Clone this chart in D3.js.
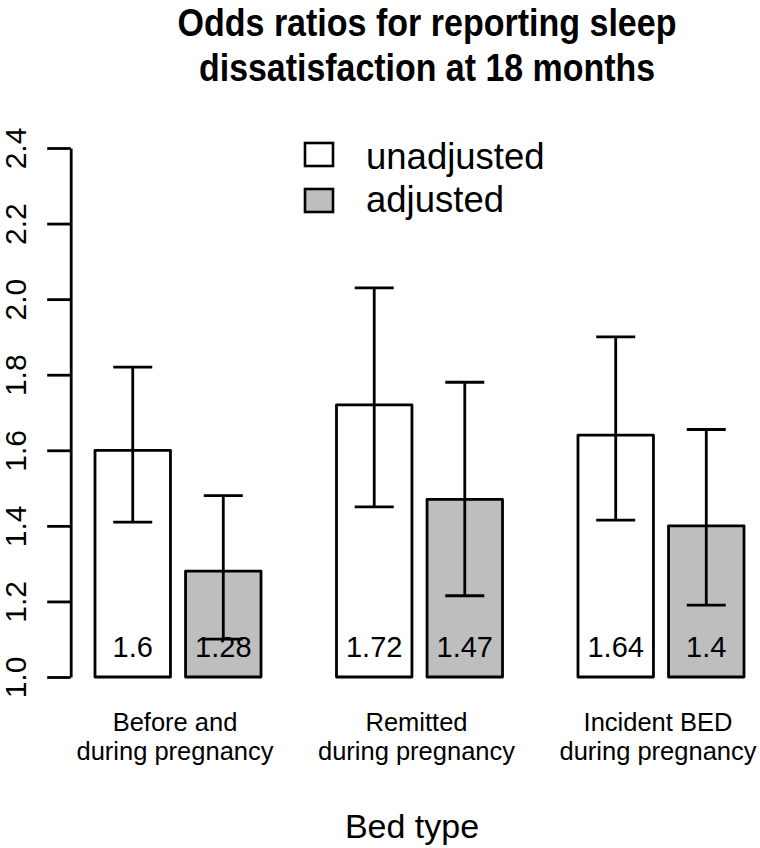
<!DOCTYPE html>
<html>
<head>
<meta charset="utf-8">
<script src="https://cdn.jsdelivr.net/npm/d3@7"></script>
<style>
  html, body { margin: 0; padding: 0; background: #fff; }
  svg { display: block; font-family: "Liberation Sans", Arial, Helvetica, sans-serif; }
</style>
</head>
<body>
<svg id="chart" width="760" height="848"></svg>
<script>
// ---- data ----
const categories = [
  ["Before and", "during pregnancy"],
  ["Remitted", "during pregnancy"],
  ["Incident BED", "during pregnancy"]
];
const seriesNames = ["unadjusted", "adjusted"];
const unadjusted = [1.6, 1.72, 1.64];
const adjusted = [1.28, 1.47, 1.4];
const unadjustedLower = [1.41, 1.45, 1.415];
const unadjustedUpper = [1.82, 2.03, 1.90];
const adjustedLower = [1.10, 1.215, 1.19];
const adjustedUpper = [1.48, 1.78, 1.655];
const yTicks = [1.0, 1.2, 1.4, 1.6, 1.8, 2.0, 2.2, 2.4];
const titleLines = ["Odds ratios for reporting sleep", "dissatisfaction at 18 months"];
const xTitle = "Bed type";
const fills = {unadjusted: "#ffffff", adjusted: "#bebebe"};

// ---- layout ----
const svg = d3.select("#chart");
const catKeys = categories.map((c, i) => i);
const x0 = d3.scaleBand().domain(catKeys).range([95, 744]).paddingInner(1 / 3.2).paddingOuter(0);
const x1 = d3.scaleBand().domain(seriesNames).range([0, x0.bandwidth()]).paddingInner(1 / 6).paddingOuter(0);
const y = d3.scaleLinear().domain([1.0, 2.4]).range([677, 148]);

const rows = [];
catKeys.forEach(i => {
  rows.push({cat: i, s: "unadjusted", v: unadjusted[i], lo: unadjustedLower[i], hi: unadjustedUpper[i]});
  rows.push({cat: i, s: "adjusted", v: adjusted[i], lo: adjustedLower[i], hi: adjustedUpper[i]});
});
const cx = d => x0(d.cat) + x1(d.s) + x1.bandwidth() / 2;

// Bars
svg.append("g").selectAll("rect").data(rows).join("rect")
  .attr("x", d => x0(d.cat) + x1(d.s))
  .attr("y", d => y(d.v))
  .attr("width", x1.bandwidth())
  .attr("height", d => y(1.0) - y(d.v))
  .attr("fill", d => fills[d.s])
  .attr("stroke", "#000")
  .attr("stroke-width", 2.8)
  .attr("stroke-linejoin", "round");

// Value labels in bars
svg.append("g").selectAll("text").data(rows).join("text")
  .attr("x", cx)
  .attr("y", y(1.08))
  .attr("dy", "0.36em")
  .attr("text-anchor", "middle")
  .attr("font-size", 29)
  .attr("fill", "#000")
  .text(d => String(d.v));

// Error bars
const eb = svg.append("g").attr("stroke", "#000").attr("stroke-width", 2.8);
const capHalf = 19.5;
eb.selectAll("line.v").data(rows).join("line").attr("class", "v")
  .attr("x1", cx).attr("x2", cx)
  .attr("y1", d => y(d.lo)).attr("y2", d => y(d.hi));
eb.selectAll("line.hi").data(rows).join("line").attr("class", "hi")
  .attr("x1", d => cx(d) - capHalf).attr("x2", d => cx(d) + capHalf)
  .attr("y1", d => y(d.hi)).attr("y2", d => y(d.hi));
eb.selectAll("line.lo").data(rows).join("line").attr("class", "lo")
  .attr("x1", d => cx(d) - capHalf).attr("x2", d => cx(d) + capHalf)
  .attr("y1", d => y(d.lo)).attr("y2", d => y(d.lo));

// Y axis
const axisX = 70.7;
const gy = svg.append("g").attr("transform", `translate(${axisX},0)`)
  .call(d3.axisLeft(y).tickValues(yTicks).tickSize(23.5).tickSizeOuter(0).tickFormat(d3.format(".1f")));
gy.select(".domain").attr("stroke", "#000").attr("stroke-width", 2.8);
gy.selectAll(".tick line").attr("stroke", "#000").attr("stroke-width", 2.8);
gy.selectAll(".tick text")
  .attr("transform", "rotate(-90)")
  .attr("x", 0)
  .attr("y", -(axisX - 26))
  .attr("dy", 0)
  .attr("text-anchor", "middle")
  .attr("font-size", 30)
  .attr("font-family", "\"Liberation Sans\", Arial, sans-serif")
  .attr("fill", "#000");

// Category labels
const catG = svg.append("g").attr("font-size", 25.5).attr("text-anchor", "middle").attr("fill", "#000");
categories.forEach((lines, i) => {
  const t = catG.append("text").attr("x", x0(i) + x0.bandwidth() / 2 - 3).attr("y", 731);
  lines.forEach((ln, k) => {
    t.append("tspan").attr("x", x0(i) + x0.bandwidth() / 2 - 3).attr("y", 731 + k * 28.5).text(ln);
  });
});

// X title
svg.append("text").attr("x", 412).attr("y", 838).attr("text-anchor", "middle")
  .attr("font-size", 34).attr("fill", "#000").text(xTitle);

// Title (condensed bold)
const titleWidths = [499, 456];
titleLines.forEach((ln, k) => {
  svg.append("text")
    .attr("x", 427 - titleWidths[k] / 2)
    .attr("y", 36 + k * 45)
    .attr("font-size", 38.5)
    .attr("font-weight", "bold")
    .attr("textLength", titleWidths[k])
    .attr("lengthAdjust", "spacingAndGlyphs")
    .attr("fill", "#000")
    .text(ln);
});

// Legend
const leg = svg.append("g");
seriesNames.forEach((s, k) => {
  leg.append("rect")
    .attr("x", 305).attr("y", 143 + k * 46)
    .attr("width", 28).attr("height", 23)
    .attr("fill", fills[s]).attr("stroke", "#000").attr("stroke-width", 2.6);
  leg.append("text")
    .attr("x", 366).attr("y", 169 + k * 43)
    .attr("font-size", 36.5).attr("fill", "#000")
    .text(s);
});
</script>
</body>
</html>
